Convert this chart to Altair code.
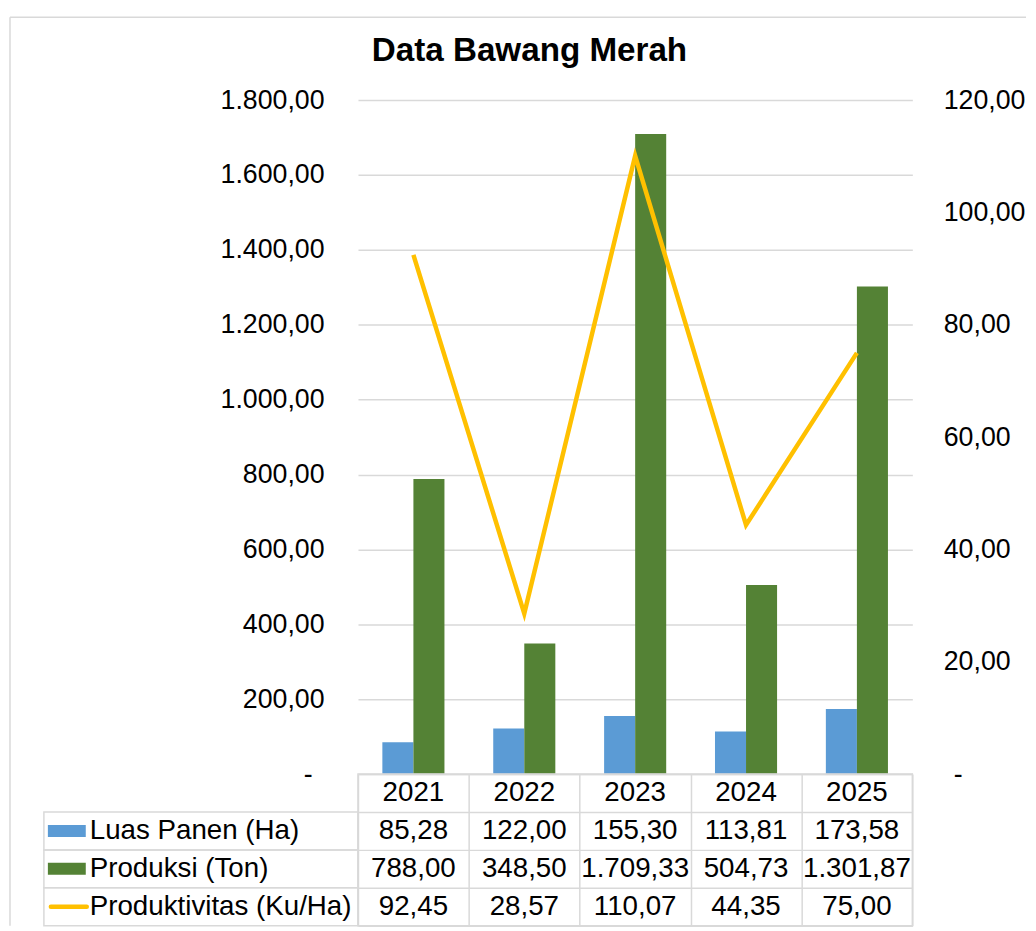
import altair as alt
import pandas as pd

# ---------------- data ----------------
years = ["2021", "2022", "2023", "2024", "2025"]
luas_panen = [85.28, 122.00, 155.30, 113.81, 173.58]
produksi = [788.00, 348.50, 1709.33, 504.73, 1301.87]
produktivitas = [92.45, 28.57, 110.07, 44.35, 75.00]

series_names = ["Luas Panen (Ha)", "Produksi (Ton)", "Produktivitas (Ku/Ha)"]
header_row = "Tahun"
left_ticks = [0, 200, 400, 600, 800, 1000, 1200, 1400, 1600, 1800]
right_ticks = [0, 20, 40, 60, 80, 100, 120]
title_text = "Data Bawang Merah"

# ---------------- styles ----------------
FONT = "Liberation Sans"
GRID = "#d9d9d9"
BLUE = "#5B9BD5"
GREEN = "#548235"
YELLOW = "#FFC000"
PLOT_W = 556
PLOT_H = 676
TABLE_H = 152
AXIS_FS = 26.8
TABLE_FS = 27.8


def fmt_id(v):
    return f"{v:,.2f}".replace(",", "#").replace(".", ",").replace("#", ".")


bar_rows = []
for y, l, p in zip(years, luas_panen, produksi):
    bar_rows.append({"year": y, "series": series_names[0], "value": l})
    bar_rows.append({"year": y, "series": series_names[1], "value": p})
bar_df = pd.DataFrame(bar_rows)
line_df = pd.DataFrame({"year": years, "value": produktivitas})

rows = [header_row] + series_names
table_rows = []
for i, y in enumerate(years):
    table_rows.append({"year": y, "row": header_row, "label": y})
    table_rows.append({"year": y, "row": series_names[0], "label": fmt_id(luas_panen[i])})
    table_rows.append({"year": y, "row": series_names[1], "label": fmt_id(produksi[i])})
    table_rows.append({"year": y, "row": series_names[2], "label": fmt_id(produktivitas[i])})
table_df = pd.DataFrame(table_rows)
legend_df = pd.DataFrame({"row": series_names})

# ---------------- top chart ----------------
x_top = alt.X("year:N", sort=years, title=None, axis=None,
              scale=alt.Scale(domain=years, paddingInner=0.44, paddingOuter=0.22))

left_expr = ("datum.value == 0 ? '-' : "
             "replace(replace(replace(format(datum.value, ',.2f'), ',', '#'), '.', ','), '#', '.')")
right_expr = ("datum.value == 0 ? '-' : "
              "replace(format(datum.value, '.2f'), '.', ',')")

bars = alt.Chart(bar_df).mark_bar().encode(
    x=x_top,
    xOffset=alt.XOffset("series:N", sort=series_names[:2],
                        scale=alt.Scale(domain=series_names[:2], paddingInner=0, paddingOuter=0)),
    y=alt.Y("value:Q", title=None,
            scale=alt.Scale(domain=[0, 1800], nice=False),
            axis=alt.Axis(values=left_ticks, grid=True, gridColor=GRID, gridWidth=1.5,
                          domain=False, ticks=False,
                          labelPadding={"condition": {"test": "datum.value == 0", "value": 46},
                                        "value": 34},
                          labelFontSize=AXIS_FS,
                          labelColor="#000000", labelExpr=left_expr)),
    color=alt.Color("series:N", scale=alt.Scale(domain=series_names[:2], range=[BLUE, GREEN]),
                    legend=None),
)

line = alt.Chart(line_df).mark_line(color=YELLOW, strokeWidth=4.5).encode(
    x=x_top,
    y=alt.Y("value:Q", title=None,
            scale=alt.Scale(domain=[0, 120], nice=False),
            axis=alt.Axis(orient="right", values=right_ticks, grid=False, domain=False,
                          ticks=False,
                          labelPadding={"condition": {"test": "datum.value == 0", "value": 41},
                                        "value": 31},
                          labelFontSize=AXIS_FS,
                          labelColor="#000000", labelExpr=right_expr)),
)

top = alt.layer(bars, line).resolve_scale(y="independent").properties(
    width=PLOT_W, height=PLOT_H,
    title=alt.TitleParams(title_text, fontSize=33.3, fontWeight="bold", font=FONT,
                          color="#000000", anchor="middle", frame="group",
                          dx=-106, offset=19),
)

# ---------------- data table ----------------
x_tab = alt.X("year:N", sort=years, title=None,
              scale=alt.Scale(domain=years, paddingInner=0, paddingOuter=0),
              axis=alt.Axis(grid=True, tickBand="extent", gridColor=GRID, gridWidth=1.5,
                            labels=False, ticks=False, domain=False))
y_tab = alt.Y("row:N", sort=rows, title=None,
              scale=alt.Scale(domain=rows, paddingInner=0, paddingOuter=0),
              axis=alt.Axis(grid=True, tickBand="extent", gridColor=GRID, gridWidth=1.5,
                            labels=False, ticks=False, domain=False))

cells = alt.Chart(table_df).mark_text(
    fontSize=TABLE_FS, color="#000000", align="center", baseline="middle"
).encode(x=x_tab, y=y_tab, text="label:N")

legend_boxes = alt.Chart(legend_df).mark_rect(
    fill="#ffffff", fillOpacity=0, stroke=GRID, strokeWidth=1.5
).encode(x=alt.value(-315), x2=alt.value(0), y=y_tab)

legend_text = alt.Chart(legend_df).mark_text(
    fontSize=TABLE_FS, color="#000000", align="left", baseline="middle"
).encode(x=alt.value(-269), y=y_tab, text="row:N")

sym_blue = alt.Chart(pd.DataFrame({"row": [series_names[0]]})).mark_rule(
    color=BLUE, strokeWidth=12
).encode(x=alt.value(-311), x2=alt.value(-273), y=y_tab)

sym_green = alt.Chart(pd.DataFrame({"row": [series_names[1]]})).mark_rule(
    color=GREEN, strokeWidth=12
).encode(x=alt.value(-311), x2=alt.value(-273), y=y_tab)

sym_line = alt.Chart(pd.DataFrame({"row": [series_names[2]]})).mark_rule(
    color=YELLOW, strokeWidth=4.5, strokeCap="round"
).encode(x=alt.value(-308), x2=alt.value(-272), y=y_tab)

frame_df = pd.DataFrame({"k": [0]})
frame_top = alt.Chart(frame_df).mark_rule(color=GRID, strokeWidth=1.5).encode(
    x=alt.value(-349), x2=alt.value(670), y=alt.value(-759))
frame_left = alt.Chart(frame_df).mark_rule(color=GRID, strokeWidth=1.5).encode(
    x=alt.value(-349), y=alt.value(-759), y2=alt.value(TABLE_H))

table = alt.layer(
    legend_boxes, cells, legend_text, sym_blue, sym_green, sym_line, frame_top, frame_left
).properties(
    width=PLOT_W, height=TABLE_H,
    view=alt.ViewBackground(stroke=GRID, strokeWidth=1.5),
)

chart = alt.vconcat(top, table, spacing=0, bounds="flush").resolve_scale(
    x="independent", y="independent", color="independent"
).properties(
    padding={"left": 0, "top": 6, "right": 0, "bottom": 0}
).configure(
    font=FONT
).configure_view(
    stroke="transparent"
)

chart.save("out.html", embed_options={"renderer": "svg", "actions": False})
